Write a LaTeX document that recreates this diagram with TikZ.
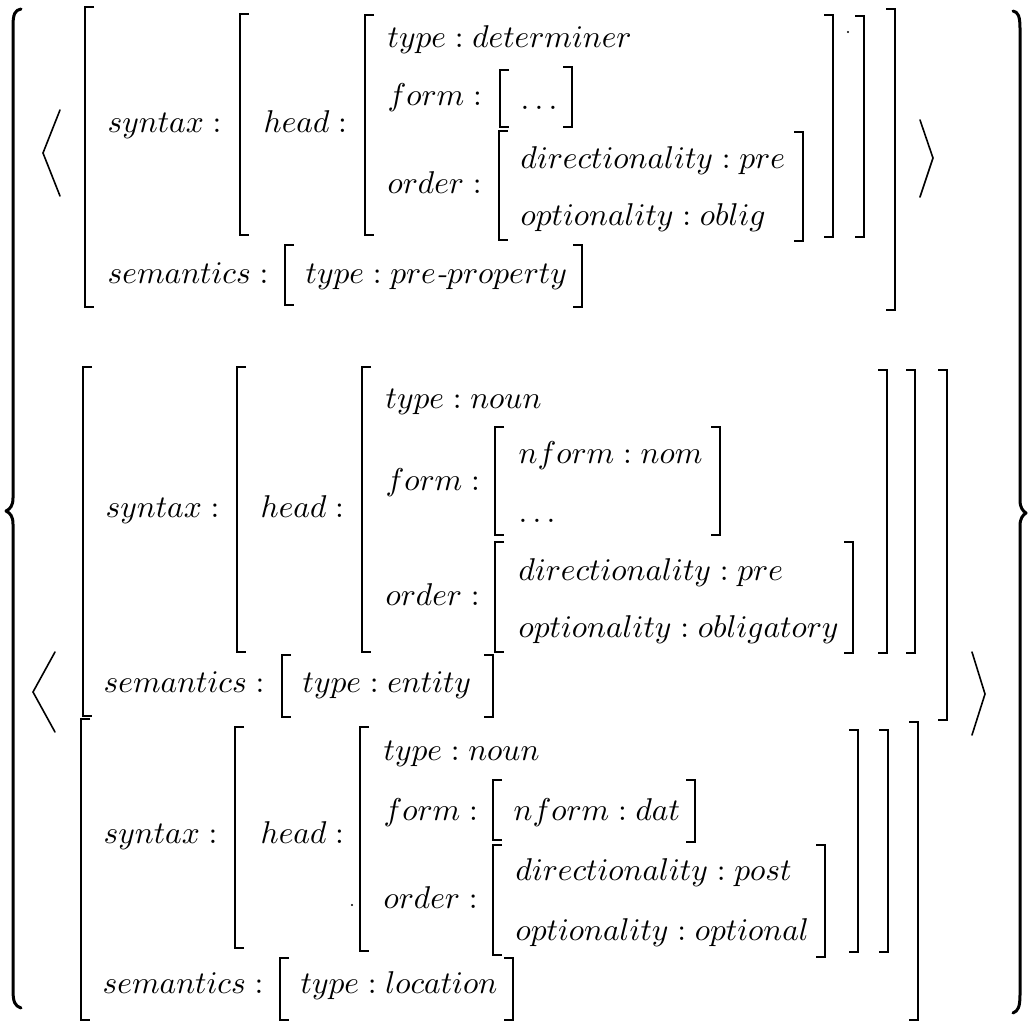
\documentclass[tikz,border=0pt]{standalone}
\newcommand\AVMl[3]{\draw[brk] (#1+9,#2) -- (#1,#2) -- (#1,#3) -- (#1+9,#3);}
\newcommand\AVMr[3]{\draw[brk] (#1-9,#2) -- (#1,#2) -- (#1,#3) -- (#1-9,#3);}
\tikzset{
  lbl/.style={anchor=base west, inner sep=0pt, scale=3.15, font=\normalsize},
  brk/.style={line width=1.9pt, line cap=butt, line join=miter},
  bracecurve/.style={line width=3pt, line cap=round, line join=round},
  angl/.style={line width=1.6pt, line join=miter, line cap=round}
}
\begin{document}
\begin{tikzpicture}[x=1pt, y=-1pt]
\useasboundingbox (0,0) rectangle (1029,1023);

% ---------- outer braces ----------
\draw[bracecurve] (21,9) .. controls (15,10) and (13,14) .. (13,26) -- (13,498)
  .. controls (13,506) and (10,509) .. (6,511) .. controls (10,513) and (13,516) .. (13,524)
  -- (13,990) .. controls (13,1002) and (15,1006) .. (21,1008);
\draw[bracecurve] (1013,11) .. controls (1018,12) and (1020,16) .. (1020,28) -- (1020,500)
  .. controls (1020,508) and (1023,511) .. (1026,513) .. controls (1023,515) and (1020,518) .. (1020,526)
  -- (1020,995) .. controls (1020,1007) and (1018,1011) .. (1013,1013);

% ---------- angle brackets ----------
\draw[angl] (60,110) -- (43,153) -- (60,196);
\draw[angl] (920,120) -- (933,158) -- (920,197);
\draw[angl] (55,652) -- (33,692) -- (55,732);
\draw[angl] (972,652) -- (985,694) -- (972,735);

% ---------- block 1 ----------
\AVMl{85}{7}{307}   \AVMr{895}{9}{310}
\AVMl{240}{14}{235} \AVMr{864}{16}{237}
\AVMl{365}{15}{235} \AVMr{833}{15}{237}
\AVMl{500}{70}{127} \AVMr{572}{67}{127}
\AVMl{499}{131}{240} \AVMr{803}{132}{241}
\AVMl{285}{245}{305} \AVMr{582}{245}{307}
\node[lbl] (a1syn)   at (107,132) {$syntax:$};
\node[lbl] (a1head)  at (263,132) {$head:$};
\node[lbl] (a1type)  at (387,47)  {$type: determiner$};
\node[lbl] (a1form)  at (387,105) {$form:$};
\node[lbl] (a1dots)  at (520,109) {$\ldots$};
\node[lbl] (a1order) at (387,193) {$order:$};
\node[lbl] (a1dir)   at (520,168) {$directionality: pre$};
\node[lbl] (a1opt)   at (520,225) {$optionality: oblig$};
\node[lbl] (a1sem)   at (107,283) {$semantics:$};
\node[lbl] (a1stype) at (305,283) {$type: pre\textit{-}property$};
\fill (848,32) circle (1.2pt);

% ---------- block 2 ----------
\AVMl{83}{367}{716}  \AVMr{947}{370}{720}
\AVMl{237}{367}{652} \AVMr{915}{370}{653}
\AVMl{362}{367}{652} \AVMr{887}{370}{653}
\AVMl{495}{427}{535} \AVMr{720}{427}{535}
\AVMl{495}{542}{652} \AVMr{853}{542}{653}
\AVMl{282}{655}{717} \AVMr{493}{655}{717}
\node[lbl] (a2syn)   at (105,517) {$syntax:$};
\node[lbl] (a2head)  at (260,517) {$head:$};
\node[lbl] (a2type)  at (385,408) {$type: noun$};
\node[lbl] (a2form)  at (385,490) {$form:$};
\node[lbl] (a2nf)    at (518,463) {$nform: nom$};
\node[lbl] (a2dots)  at (518,522) {$\ldots$};
\node[lbl] (a2order) at (385,605) {$order:$};
\node[lbl] (a2dir)   at (518,580) {$directionality: pre$};
\node[lbl] (a2opt)   at (518,637) {$optionality: obligatory$};
\node[lbl] (a2sem)   at (103,692) {$semantics:$};
\node[lbl] (a2stype) at (302,692) {$type: entity$};

% ---------- block 3 ----------
\AVMl{81}{719}{1020} \AVMr{918}{722}{1020}
\AVMl{235}{727}{948} \AVMr{888}{730}{952}
\AVMl{360}{727}{951} \AVMr{858}{730}{952}
\AVMl{493}{780}{840} \AVMr{695}{780}{842}
\AVMl{493}{845}{955} \AVMr{825}{845}{957}
\AVMl{280}{958}{1020} \AVMr{513}{958}{1020}
\node[lbl] (a3syn)   at (103,843) {$syntax:$};
\node[lbl] (a3head)  at (260,843) {$head:$};
\node[lbl] (a3type)  at (383,760) {$type: noun$};
\node[lbl] (a3form)  at (383,820) {$form:$};
\node[lbl] (a3nf)    at (513,820) {$nform: dat$};
\node[lbl] (a3order) at (383,908) {$order:$};
\node[lbl] (a3dir)   at (515,880) {$directionality: post$};
\node[lbl] (a3opt)   at (515,940) {$optionality: optional$};
\node[lbl] (a3sem)   at (102,993) {$semantics:$};
\node[lbl] (a3stype) at (300,993) {$type: location$};
\fill (352,905) circle (1.2pt);
\end{tikzpicture}
\end{document}
